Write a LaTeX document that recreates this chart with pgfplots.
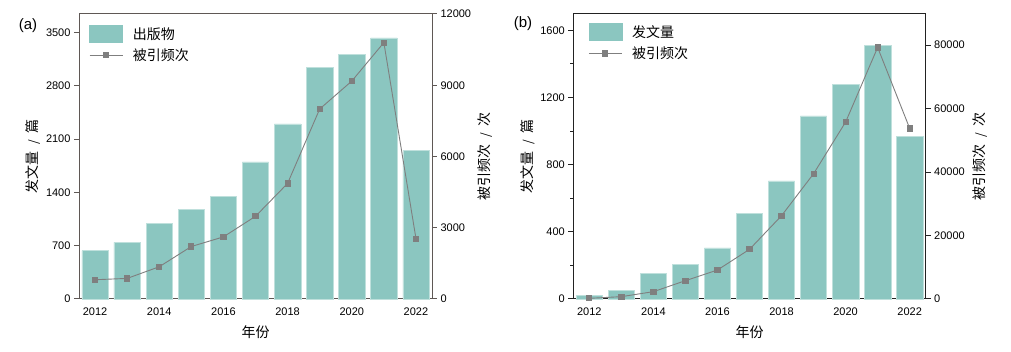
\documentclass[border=0pt]{standalone}
\usepackage{pgfplots}
\pgfplotsset{compat=1.18}
\usepackage{fontspec}
\setmainfont{Liberation Sans}
\newfontfamily\cjk{Noto Sans CJK SC}
\definecolor{barc}{HTML}{8BC6C0}
\definecolor{linec}{HTML}{7F7F7F}
\definecolor{axa}{HTML}{5F5855}
\definecolor{axb}{HTML}{222222}

\pgfplotsset{
  base/.style={
    scale only axis, height=285pt,
    xmin=2011.5, xmax=2022.5, ymin=0,
    xtick={2012,2014,...,2022},
    tick label style={font=\fontsize{11}{12}\selectfont},
    /pgf/number format/assume math mode=true,
    /pgf/number format/1000 sep={},
    scaled y ticks=false,
    tick align=outside, major tick length=5pt, minor tick length=3pt,
    xtick style={draw=none},
    clip=false,
    label style={font=\cjk\fontsize{14}{16}\selectfont},
  },
  barsty/.style={ybar, bar width=0.82, bar shift=0pt, fill=barc, draw=barc!55!white, line width=0.5pt},
  linesty/.style={color=linec, line width=0.9pt, mark=square*, mark size=2.6pt, mark options={fill=linec, draw=linec}},
  legsty/.style={
    legend style={at={(axis description cs:#1)}, anchor=north west, draw=none, fill=none,
      inner xsep=0pt, inner ysep=0pt, row sep=4pt,
      font=\cjk\fontsize{14}{16}\selectfont,
      /tikz/every odd column/.style={column sep=8pt}},
    legend cell align=left,
  },
  barleg/.style={legend image code/.code={\fill[barc] (0pt,-8.5pt) rectangle (33pt,8.5pt);}},
  lineleg/.style={legend image code/.code={\draw[mark repeat=2,mark phase=2,##1] plot coordinates {(0pt,0pt) (16.5pt,0pt) (33pt,0pt)};}},
}

\newcommand{\yl}[2]{{\cjk #1}\hspace{7pt}{\fontsize{12}{14}\selectfont /}\hspace{7pt}{\cjk #2}}

\begin{document}
\begin{tikzpicture}
\useasboundingbox (0pt,0pt) rectangle (1011pt,352pt);

% ---------- panel (a) ----------
\begin{axis}[base, width=353pt, at={(79pt,53pt)}, anchor=south west,
  ymax=3745, ytick={0,700,...,3500}, ytick pos=left,
  axis line style={axa, line width=1pt}, tick style={axa, line width=1pt},
  xlabel={年份}, xlabel style={at={(axis description cs:0.5,-0.116)}, anchor=center},
  ylabel={\yl{发文量}{篇}}, ylabel style={at={(axis description cs:-0.130,0.5)}, anchor=center},
]
\addplot[barsty] coordinates {
(2012,634) (2013,744) (2014,993) (2015,1177) (2016,1352) (2017,1802)
(2018,2301) (2019,3041) (2020,3211) (2021,3430) (2022,1951)};
\node[font=\fontsize{15}{16}\selectfont] at (axis description cs:-0.1445,0.96) {(a)};
\end{axis}
\begin{axis}[base, width=353pt, at={(79pt,53pt)}, anchor=south west,
  ymax=12000, ytick={0,3000,...,12000},
  axis y line*=right, axis x line=none,
  axis line style={axa, line width=1pt}, tick style={axa, line width=1pt},
  ylabel={\yl{被引频次}{次}}, ylabel style={at={(axis description cs:1.150,0.5)}, anchor=center, rotate=0},
  legsty={0.028,0.961},
]
\addlegendimage{barleg}
\addlegendentry{出版物}
\addplot[linesty, lineleg] coordinates {
(2012,811) (2013,867) (2014,1357) (2015,2210) (2016,2615) (2017,3482)
(2018,4867) (2019,8000) (2020,9175) (2021,10797) (2022,2545)};
\addlegendentry{被引频次}
\end{axis}

% ---------- panel (b) ----------
\begin{axis}[base, width=352.4pt, at={(573.3pt,53pt)}, anchor=south west,
  ymax=1697, ytick={0,400,...,1600}, minor ytick={200,600,...,1400}, ytick pos=left,
  axis line style={axb, line width=1pt}, tick style={axb, line width=1pt},
  xlabel={年份}, xlabel style={at={(axis description cs:0.5,-0.116)}, anchor=center},
  ylabel={\yl{发文量}{篇}}, ylabel style={at={(axis description cs:-0.130,0.5)}, anchor=center},
]
\addplot[barsty] coordinates {
(2012,20) (2013,52) (2014,153) (2015,208) (2016,304) (2017,512)
(2018,703) (2019,1090) (2020,1276) (2021,1511) (2022,967)};
\node[font=\fontsize{15}{16}\selectfont] at (axis description cs:-0.1427,0.965) {(b)};
\end{axis}
\begin{axis}[base, width=352.4pt, at={(573.3pt,53pt)}, anchor=south west,
  ymax=89800, ytick={0,20000,...,80000},
  axis y line*=right, axis x line=none,
  axis line style={axb, line width=1pt}, tick style={axb, line width=1pt},
  ylabel={\yl{被引频次}{次}}, ylabel style={at={(axis description cs:1.154,0.5)}, anchor=center, rotate=0},
  legsty={0.042,0.968},
]
\addlegendimage{barleg}
\addlegendentry{发文量}
\addplot[linesty, lineleg] coordinates {
(2012,210) (2013,735) (2014,2310) (2015,5775) (2016,9134) (2017,15643)
(2018,26247) (2019,39475) (2020,55749) (2021,79266) (2022,53754)};
\addlegendentry{被引频次}
\end{axis}
\end{tikzpicture}
\end{document}
